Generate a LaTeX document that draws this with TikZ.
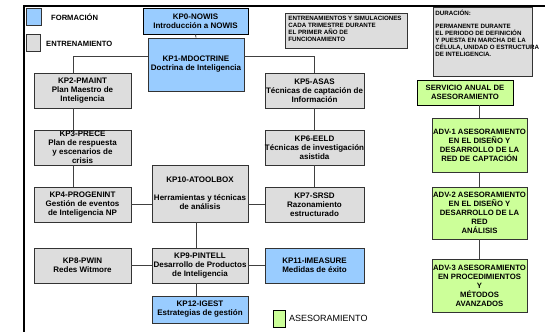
\documentclass[tikz,border=0pt]{standalone}
\usepackage{fontspec}
\setmainfont{Liberation Sans}
\usepackage{xcolor}
\usetikzlibrary{calc,positioning}
\definecolor{formblue}{HTML}{99CCFF}
\definecolor{entgray}{HTML}{DDDDDD}
\definecolor{asegreen}{HTML}{CCFF99}
\definecolor{boxgray}{HTML}{333333}
\definecolor{linegray}{HTML}{404040}

\begin{document}
\begin{tikzpicture}[x=1pt,y=-1pt,
	box/.style={draw=boxgray,line width=0.8pt,align=center,inner sep=0pt,font=\fontsize{8}{9}\selectfont\bfseries},
	formacion/.style={box,fill=formblue},
	entrena/.style={box,fill=entgray},
	asesora/.style={box,fill=asegreen,font=\fontsize{7.7}{9}\selectfont\bfseries},
	nota/.style={draw=boxgray,fill=entgray,line width=0.8pt,anchor=north west,inner xsep=3pt,inner ysep=3pt,font=\fontsize{6.2}{6.5}\selectfont\bfseries},
	legsq/.style={draw=boxgray,line width=0.8pt,inner sep=0pt},
	legtxt/.style={anchor=west,inner sep=0pt,font=\fontsize{7.6}{9}\selectfont\bfseries},
	link/.style={draw=linegray,line width=0.8pt}]
	\useasboundingbox (0,0) rectangle (545,332);
	\draw[line width=1.6pt] (545,6) -- (24,6) -- (24,332);
	\node[legsq,fill=formblue,minimum width=15,minimum height=17] (legform) at (33.5,16.5) {};
	\node[legtxt] (txtform) at (51,17) {FORMACIÓN};
	\node[legsq,fill=entgray,minimum width=14,minimum height=17] (legent) at (33,43) {};
	\node[legtxt] (txtent) at (46,44) {ENTRENAMIENTO};
	\node[legsq,draw=black,fill=asegreen,minimum width=12,minimum height=17] (legase) at (279,318.5) {};
	\node[anchor=west,inner sep=0pt,font=\fontsize{9}{9}\selectfont] (txtase) at (289,318) {ASESORAMIENTO};
	\node[nota] (notaent) at (285,13) {\parbox[t][29pt][t]{116pt}{\begin{tabular}[t]{@{}l@{}}ENTRENAMIENTOS Y SIMULACIONES\\CADA TRIMESTRE DURANTE\\EL PRIMER AÑO DE\\FUNCIONAMIENTO\end{tabular}}};
	\node[nota,inner xsep=2pt] (notadur) at (433,7) {\parbox[t][63pt][t]{95pt}{\begin{tabular}[t]{@{}l@{}}DURACIÓN:\\[6pt]PERMANENTE DURANTE\\EL PERIODO DE DEFINICIÓN\\Y PUESTA EN MARCHA DE LA\\CÉLULA, UNIDAD O ESTRUCTURA\\DE INTELIGENCIA.\end{tabular}}};
	\node[formacion,draw=black,line width=1pt,minimum width=105,minimum height=26] (kp0) at (195.5,21) {KP0-NOWIS\\Introducción a NOWIS};
	\node[formacion,minimum width=96,minimum height=53] (kp1) at (196,64.5) {KP1-MDOCTRINE\\Doctrina de Inteligencia};
	\node[entrena,minimum width=97,minimum height=35] (kp2) at (82.5,90.5) {KP2-PMAINT\\Plan Maestro de\\Inteligencia};
	\node[entrena,minimum width=97,minimum height=35] (kp3) at (82.5,147.5) {KP3-PRECE\\Plan de respuesta\\y escenarios de\\crisis};
	\node[entrena,minimum width=97,minimum height=35] (kp4) at (82.5,204.5) {KP4-PROGENINT\\Gestión de eventos\\de Inteligencia NP};
	\node[entrena,minimum width=97,minimum height=35] (kp8) at (82.5,265.5) {KP8-PWIN\\Redes Witmore};
	\node[entrena,minimum width=96,minimum height=57] (kp10) at (200,193.5) {KP10-ATOOLBOX\\[9pt]Herramientas y técnicas\\de análisis};
	\node[entrena,minimum width=96,minimum height=35] (kp9) at (200,265.5) {KP9-PINTELL\\Desarrollo de Productos\\de Inteligencia};
	\node[formacion,minimum width=96,minimum height=27] (kp12) at (200,309.5) {KP12-IGEST\\Estrategias de gestión};
	\node[entrena,minimum width=99,minimum height=35] (kp5) at (314.5,90.5) {KP5-ASAS\\Técnicas de captación de\\Información};
	\node[entrena,minimum width=99,minimum height=35] (kp6) at (314.5,147.5) {KP6-EELD\\Técnicas de investigación\\asistida};
	\node[entrena,minimum width=99,minimum height=35] (kp7) at (314.5,204.5) {KP7-SRSD\\Razonamiento\\estructurado};
	\node[formacion,minimum width=99,minimum height=35] (kp11) at (314.5,265.5) {KP11-IMEASURE\\Medidas de éxito};
	\node[asesora,draw=black,minimum width=96,minimum height=25] (serv) at (465,92.5) {SERVICIO ANUAL DE\\ASESORAMIENTO};
	\node[asesora,minimum width=95,minimum height=54] (adv1) at (479.5,145) {ADV-1 ASESORAMIENTO\\EN EL DISEÑO Y\\DESARROLLO DE LA\\RED DE CAPTACIÓN};
	\node[asesora,minimum width=95,minimum height=52] (adv2) at (479.5,213) {ADV-2 ASESORAMIENTO\\EN EL DISEÑO Y\\DESARROLLO DE LA\\RED\\ANÁLISIS};
	\node[asesora,minimum width=95,minimum height=53] (adv3) at (479.5,285.5) {ADV-3 ASESORAMIENTO\\EN PROCEDIMIENTOS\\Y\\MÉTODOS\\AVANZADOS};
	\draw[link] (kp0.south) -- (kp1.north);
	\draw[link] ([yshift=8pt]kp1.west) -| ([xshift=-9.5pt]kp2.north);
	\draw[link] ([yshift=8pt]kp1.east) -| (kp5.north);
	\draw[link] ([xshift=-9.5pt]kp2.south) -- ([xshift=-9.5pt]kp3.north);
	\draw[link] ([xshift=-9.5pt]kp3.south) -- ([xshift=-9.5pt]kp4.north);
	\draw[link] (kp5.south) -- (kp6.north);
	\draw[link] (kp6.south) -- (kp7.north);
	\draw[link] (kp4.east) -- (kp4.east -| kp10.west);
	\draw[link] (kp7.west) -- (kp7.west -| kp10.east);
	\draw[link] ([xshift=-4pt]kp10.south) -- ([xshift=-4pt]kp9.north);
	\draw[link] ([xshift=-4pt]kp9.south) -- ([xshift=-4pt]kp12.north);
	\draw[link] (kp8.east) -- (kp9.west);
	\draw[link] (kp9.east) -- (kp11.west);
	\draw[link] (adv1.north) -- (adv1.north |- serv.south);
	\draw[link] (adv1.south) -- (adv2.north);
	\draw[link] (adv2.south) -- (adv3.north);
\end{tikzpicture}
\end{document}
